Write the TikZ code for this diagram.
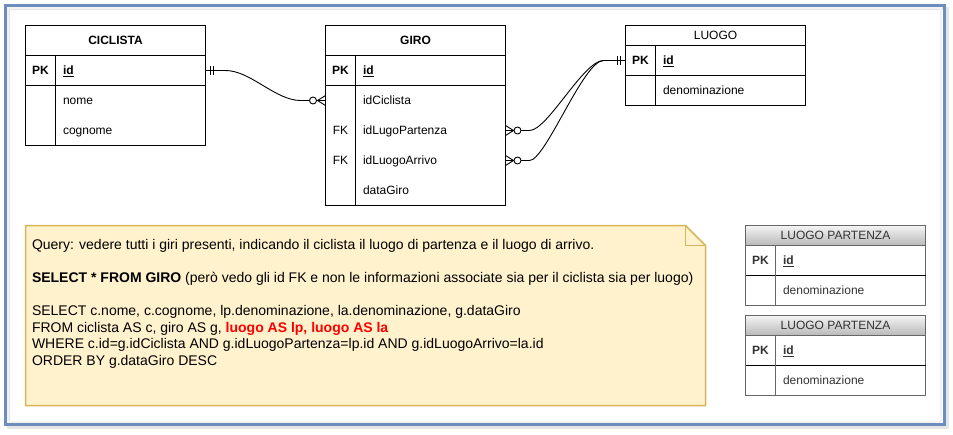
\documentclass[tikz,border=0pt]{standalone}
\usepackage{fontspec}
\setmainfont{Liberation Sans}
\usetikzlibrary{calc}
\definecolor{frameblue}{HTML}{6C8EBF}
\definecolor{notefill}{HTML}{FFF2CC}
\definecolor{notedraw}{HTML}{D6B656}
\definecolor{greytxt}{HTML}{333333}
\definecolor{greyline}{HTML}{666666}
\definecolor{hdrtop}{HTML}{F5F5F5}
\definecolor{hdrbot}{HTML}{B8B8B8}
\definecolor{redtxt}{HTML}{FF0000}
\begin{document}
\begin{tikzpicture}[x=1pt,y=-1pt,
  every node/.style={font=\fontsize{12}{14}\selectfont, inner sep=0pt, outer sep=0pt},
  tblline/.style={draw=black, line width=1pt},
  greytbl/.style={draw=greyline, line width=1pt},
  rowbox/.style={minimum height=30pt, minimum width=180pt, inner sep=0pt},
  hdrtxt/.style={anchor=base, font=\fontsize{12}{14}\selectfont\bfseries},
  hdrplain/.style={anchor=base},
  keytxt/.style={anchor=base},
  pktxt/.style={anchor=base, font=\fontsize{12}{14}\selectfont\bfseries},
  fldtxt/.style={anchor=base west},
  idtxt/.style={anchor=base west, font=\fontsize{12}{14}\selectfont\bfseries},
  notetxt/.style={anchor=base west, font=\fontsize{14}{16}\selectfont},
  conn/.style={draw=black, line width=0.9pt},
  ermark/.style={draw=black, line width=0.9pt}
]
\useasboundingbox (0,0) rectangle (953,434);
\fill[white] (0,0) rectangle (953,434);

% frame with shadow
\draw[line width=3pt, black!10] (8,8) rectangle (947,427.5);
\draw[line width=2pt, black!5] (8,8) rectangle (941,421.5);
\draw[line width=3pt, frameblue] (5,5) rectangle (944,424.5);

% ---------- CICLISTA ----------
\draw[tblline, fill=white] (25.5,25.5) rectangle (205.5,145.5);
\draw[tblline] (25.5,55.5) -- (205.5,55.5);
\draw[tblline] (25.5,85.5) -- (205.5,85.5);
\draw[tblline] (55.5,55.5) -- (55.5,145.5);
\node[rowbox] (cic-pk) at (115.5,70.5) {};
\node[hdrtxt] (cic-h) at (115.5,44.8) {CICLISTA};
\node[pktxt] (cic-k1) at (40.5,74.8) {PK};
\node[idtxt] (cic-f1) at (63,74.8) {\underline{id}};
\node[fldtxt] (cic-f2) at (63,104.8) {nome};
\node[fldtxt] (cic-f3) at (63,134.8) {cognome};

% ---------- GIRO ----------
\draw[tblline, fill=white] (325.5,25.5) rectangle (505.5,205.5);
\draw[tblline] (325.5,55.5) -- (505.5,55.5);
\draw[tblline] (325.5,85.5) -- (505.5,85.5);
\draw[tblline] (355.5,55.5) -- (355.5,205.5);
\node[rowbox] (giro-r1) at (415.5,100.5) {};
\node[rowbox] (giro-r3) at (415.5,130.5) {};
\node[rowbox] (giro-r4) at (415.5,160.5) {};
\node[hdrtxt] (giro-h) at (415.5,44.8) {GIRO};
\node[pktxt] (giro-k1) at (340.5,74.8) {PK};
\node[idtxt] (giro-f1) at (363,74.8) {\underline{id}};
\node[fldtxt] (giro-f2) at (363,104.8) {idCiclista};
\node[keytxt] (giro-k3) at (340.5,134.8) {FK};
\node[fldtxt] (giro-f3) at (363,134.8) {idLugoPartenza};
\node[keytxt] (giro-k4) at (340.5,164.8) {FK};
\node[fldtxt] (giro-f4) at (363,164.8) {idLuogoArrivo};
\node[fldtxt] (giro-f5) at (363,194.8) {dataGiro};

% ---------- LUOGO ----------
\draw[tblline, fill=white] (625.5,25.5) rectangle (805.5,105.5);
\draw[tblline] (625.5,45.5) -- (805.5,45.5);
\draw[tblline] (625.5,75.5) -- (805.5,75.5);
\draw[tblline] (655.5,45.5) -- (655.5,105.5);
\node[rowbox] (luogo-pk) at (715.5,60.5) {};
\node[hdrplain] (luogo-h) at (715.5,39.8) {LUOGO};
\node[pktxt] (luogo-k1) at (640.5,64.8) {PK};
\node[idtxt] (luogo-f1) at (663,64.8) {\underline{id}};
\node[fldtxt] (luogo-f2) at (663,94.8) {denominazione};

% ---------- connectors ----------
% CICLISTA -> GIRO
\draw[conn] (cic-pk.east) -- ($(cic-pk.east)+(20,0)$)
  .. controls ($(cic-pk.east)+(45,0)$) and ($(giro-r1.west)+(-50,0)$) .. ($(giro-r1.west)+(-25,0)$)
  -- (giro-r1.west);
\draw[ermark] ($(cic-pk.east)+(5,-4.5)$) -- ($(cic-pk.east)+(5,4.5)$);
\draw[ermark] ($(cic-pk.east)+(8,-4.5)$) -- ($(cic-pk.east)+(8,4.5)$);
\draw[ermark, fill=white] ($(giro-r1.west)+(-12.5,0)$) circle[radius=3.5pt];
\draw[ermark] ($(giro-r1.west)+(0,-5)$) -- ($(giro-r1.west)+(-8,0)$) -- ($(giro-r1.west)+(0,5)$);

% GIRO -> LUOGO (partenza)
\draw[conn] (giro-r3.east) -- ($(giro-r3.east)+(24,0)$)
  .. controls ($(giro-r3.east)+(42,0)$) and ($(luogo-pk.west)+(-42,0)$) .. ($(luogo-pk.west)+(-22,0)$)
  -- (luogo-pk.west);
% GIRO -> LUOGO (arrivo)
\draw[conn] (giro-r4.east) -- ($(giro-r4.east)+(24,0)$)
  .. controls ($(giro-r4.east)+(40,0)$) and ($(luogo-pk.west)+(-42,0)$) .. ($(luogo-pk.west)+(-22,0)$)
  -- (luogo-pk.west);
\draw[ermark, fill=white] ($(giro-r3.east)+(12,0)$) circle[radius=3.5pt];
\draw[ermark] ($(giro-r3.east)+(0,-5)$) -- ($(giro-r3.east)+(8,0)$) -- ($(giro-r3.east)+(0,5)$);
\draw[ermark, fill=white] ($(giro-r4.east)+(12,0)$) circle[radius=3.5pt];
\draw[ermark] ($(giro-r4.east)+(0,-5)$) -- ($(giro-r4.east)+(8,0)$) -- ($(giro-r4.east)+(0,5)$);
\draw[ermark] ($(luogo-pk.west)+(-5,-4.5)$) -- ($(luogo-pk.west)+(-5,4.5)$);
\draw[ermark] ($(luogo-pk.west)+(-8,-4.5)$) -- ($(luogo-pk.west)+(-8,4.5)$);

% ---------- note ----------
\draw[draw=notedraw, fill=notefill, line width=1.5pt, line join=miter]
  (25.5,225.5) -- (685.5,225.5) -- (705.5,245.5) -- (705.5,405.5) -- (25.5,405.5) -- cycle;
\draw[draw=notedraw, line width=1.5pt] (685.5,225.5) -- (685.5,245.5) -- (705.5,245.5);
\node[notetxt] (q1) at (32,249) {Query: vedere tutti i giri presenti, indicando il ciclista il luogo di partenza e il luogo di arrivo.};
\node[notetxt] (q2) at (32,282.2) {\textbf{SELECT * FROM GIRO} (però vedo gli id FK e non le informazioni associate sia per il ciclista sia per luogo)};
\node[notetxt] (q3) at (32,315.4) {SELECT c.nome, c.cognome, lp.denominazione, la.denominazione, g.dataGiro};
\node[notetxt] (q4) at (32,332) {FROM ciclista AS c, giro AS g, \textcolor{redtxt}{\textbf{luogo AS lp, luogo AS la}}};
\node[notetxt] (q5) at (32,348.6) {WHERE c.id=g.idCiclista AND g.idLuogoPartenza=lp.id AND g.idLuogoArrivo=la.id};
\node[notetxt] (q6) at (32,365.2) {ORDER BY g.dataGiro DESC};

% ---------- LUOGO PARTENZA 1 ----------
\fill[white] (745.5,225.5) rectangle (925.5,305.5);
\shade[top color=hdrtop, bottom color=hdrbot] (745.5,225.5) rectangle (925.5,245.5);
\draw[greytbl] (745.5,225.5) rectangle (925.5,305.5);
\draw[greytbl] (745.5,245.5) -- (925.5,245.5);
\draw[greytbl, draw=black] (745.5,275.5) -- (925.5,275.5);
\draw[greytbl] (775.5,245.5) -- (775.5,305.5);
\node[hdrplain, text=greytxt] (lp1-h) at (835.5,239.8) {LUOGO PARTENZA};
\node[pktxt, text=greytxt] (lp1-k1) at (760.5,264.8) {PK};
\node[idtxt, text=greytxt] (lp1-f1) at (783,264.8) {\underline{id}};
\node[fldtxt, text=greytxt] (lp1-f2) at (783,294.8) {denominazione};

% ---------- LUOGO PARTENZA 2 ----------
\fill[white] (745.5,315.5) rectangle (925.5,395.5);
\shade[top color=hdrtop, bottom color=hdrbot] (745.5,315.5) rectangle (925.5,335.5);
\draw[greytbl] (745.5,315.5) rectangle (925.5,395.5);
\draw[greytbl] (745.5,335.5) -- (925.5,335.5);
\draw[greytbl, draw=black] (745.5,365.5) -- (925.5,365.5);
\draw[greytbl] (775.5,335.5) -- (775.5,395.5);
\node[hdrplain, text=greytxt] (lp2-h) at (835.5,329.8) {LUOGO PARTENZA};
\node[pktxt, text=greytxt] (lp2-k1) at (760.5,354.8) {PK};
\node[idtxt, text=greytxt] (lp2-f1) at (783,354.8) {\underline{id}};
\node[fldtxt, text=greytxt] (lp2-f2) at (783,384.8) {denominazione};
\end{tikzpicture}
\end{document}
